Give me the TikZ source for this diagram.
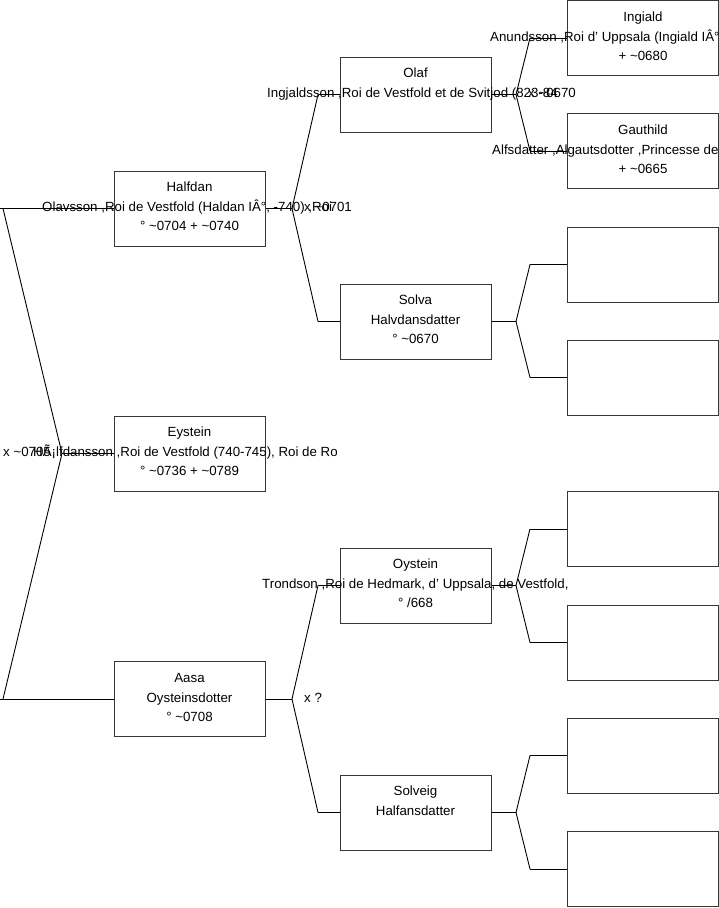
\documentclass[tikz,border=0pt]{standalone}
\usepackage{fontspec}
\setmainfont{Liberation Sans}
\definecolor{boxgray}{RGB}{55,55,55}
\newcommand\mytl{\textasciitilde}
\begin{document}
\begin{tikzpicture}[x=1pt,y=-1pt,
  pbox/.style={draw=boxgray, line width=1pt, minimum width=151pt, minimum height=75pt, inner sep=0pt},
  lbl/.style={font=\fontsize{13.3}{15}\selectfont, inner sep=0pt, anchor=base},
  lblw/.style={lbl, anchor=base west},
  link/.style={draw=black, line width=0.9pt}]
\useasboundingbox (0,0) rectangle (719,908);
% boxes
\node[pbox] (halfdan) at (189.5,208.5) {};
\node[pbox] (eystein) at (189.5,453.5) {};
\node[pbox] (aasa) at (189.5,699) {};
\node[pbox] (olaf) at (415.5,94.5) {};
\node[pbox] (solva) at (415.5,321.5) {};
\node[pbox] (oystein) at (415.5,585.5) {};
\node[pbox] (solveig) at (415.5,812.5) {};
\node[pbox] (ingiald) at (643,38) {};
\node[pbox] (gauthild) at (643,151) {};
\node[pbox] (e1) at (643,264.5) {};
\node[pbox] (e2) at (643,377.5) {};
\node[pbox] (e3) at (643,529) {};
\node[pbox] (e4) at (643,642.5) {};
\node[pbox] (e5) at (643,755.5) {};
\node[pbox] (e6) at (643,869) {};
% fork coordinates
\coordinate (lt0) at (0,208.5);
\coordinate (lt) at (3,208.5);
\coordinate (lf) at (62,453.5);
\coordinate (lb) at (3,699);
\coordinate (lb0) at (0,699);
\coordinate (hf) at (292,208.5);
\coordinate (ht) at (318,94.5);
\coordinate (hb) at (318,321.5);
\coordinate (af) at (292,699);
\coordinate (at) at (318,585.5);
\coordinate (ab) at (318,812.5);
\coordinate (of) at (516,94.5);
\coordinate (ot) at (530,38);
\coordinate (ob) at (530,151);
\coordinate (sf) at (516,321.5);
\coordinate (st) at (530,264.5);
\coordinate (sb) at (530,377.5);
\coordinate (yf) at (516,585.5);
\coordinate (yt) at (530,529);
\coordinate (yb) at (530,642.5);
\coordinate (gf) at (516,812.5);
\coordinate (gt) at (530,755.5);
\coordinate (gb) at (530,869);
% connectors
\draw[link] (halfdan.west) -- (lt0);
\draw[link] (lt) -- (lf) -- (lb);
\draw[link] (lf) -- (eystein.west);
\draw[link] (lb0) -- (aasa.west);
\draw[link] (halfdan.east) -- (hf);
\draw[link] (ht) -- (hf) -- (hb);
\draw[link] (ht) -- (olaf.west);
\draw[link] (hb) -- (solva.west);
\draw[link] (aasa.east) -- (af);
\draw[link] (at) -- (af) -- (ab);
\draw[link] (at) -- (oystein.west);
\draw[link] (ab) -- (solveig.west);
\draw[link] (olaf.east) -- (of);
\draw[link] (ot) -- (of) -- (ob);
\draw[link] (ot) -- (ingiald.west);
\draw[link] (ob) -- (gauthild.west);
\draw[link] (solva.east) -- (sf);
\draw[link] (st) -- (sf) -- (sb);
\draw[link] (st) -- (e1.west);
\draw[link] (sb) -- (e2.west);
\draw[link] (oystein.east) -- (yf);
\draw[link] (yt) -- (yf) -- (yb);
\draw[link] (yt) -- (e3.west);
\draw[link] (yb) -- (e4.west);
\draw[link] (solveig.east) -- (gf);
\draw[link] (gt) -- (gf) -- (gb);
\draw[link] (gt) -- (e5.west);
\draw[link] (gb) -- (e6.west);
% texts: Halfdan
\node[lbl] (t1a) at (189.5,191.5) {Halfdan};
\node[lblw] (t1b) at (42,211.5) {Olavsson ,Roi de Vestfold (Haldan IÂ°, -740) ,Roi};
\node[lbl] (t1c) at (189.5,230.5) {° \mytl0704 + \mytl0740};
% Eystein
\node[lbl] (t2a) at (189.5,436.5) {Eystein};
\node[lblw] (t2b) at (33,456.5) {HÃ¡lfdansson ,Roi de Vestfold (740-745), Roi de Ro};
\node[lbl] (t2c) at (189.5,475.5) {° \mytl0736 + \mytl0789};
% Aasa
\node[lbl] (t3a) at (189.5,682) {Aasa};
\node[lbl] (t3b) at (189.5,702) {Oysteinsdotter};
\node[lbl] (t3c) at (189.5,721) {° \mytl0708};
% Olaf
\node[lbl] (t4a) at (415.5,77.5) {Olaf};
\node[lblw] (t4b) at (267,97.5) {Ingjaldsson ,Roi de Vestfold et de Svitjod (823-84};
% Solva
\node[lbl] (t5a) at (415.5,304.5) {Solva};
\node[lbl] (t5b) at (415.5,324.5) {Halvdansdatter};
\node[lbl] (t5c) at (415.5,343.5) {° \mytl0670};
% Oystein
\node[lbl] (t6a) at (415.5,568.5) {Oystein};
\node[lblw] (t6b) at (262,588.5) {Trondson ,Roi de Hedmark, d' Uppsala, de Vestfold,};
\node[lbl] (t6c) at (415.5,607.5) {° /668};
% Solveig
\node[lbl] (t7a) at (415.5,795.5) {Solveig};
\node[lbl] (t7b) at (415.5,815.5) {Halfansdatter};
% Ingiald
\node[lbl] (t8a) at (643,21) {Ingiald};
\node[lblw] (t8b) at (490,41) {Anundsson ,Roi d' Uppsala (Ingiald IÂ°,};
\node[lbl] (t8c) at (643,60) {+ \mytl0680};
% Gauthild
\node[lbl] (t9a) at (643,134) {Gauthild};
\node[lblw] (t9b) at (492,154) {Alfsdatter ,Algautsdotter ,Princesse de};
\node[lbl] (t9c) at (643,173) {+ \mytl0665};
% marriage labels
\node[lblw] (m1) at (3,456.5) {x \mytl0705};
\node[lblw] (m2) at (304,702) {x ?};
\node[lblw] (m3) at (304,211.5) {x \mytl0701};
\node[lblw] (m4) at (528,97.5) {x \mytl0670};
\end{tikzpicture}
\end{document}
